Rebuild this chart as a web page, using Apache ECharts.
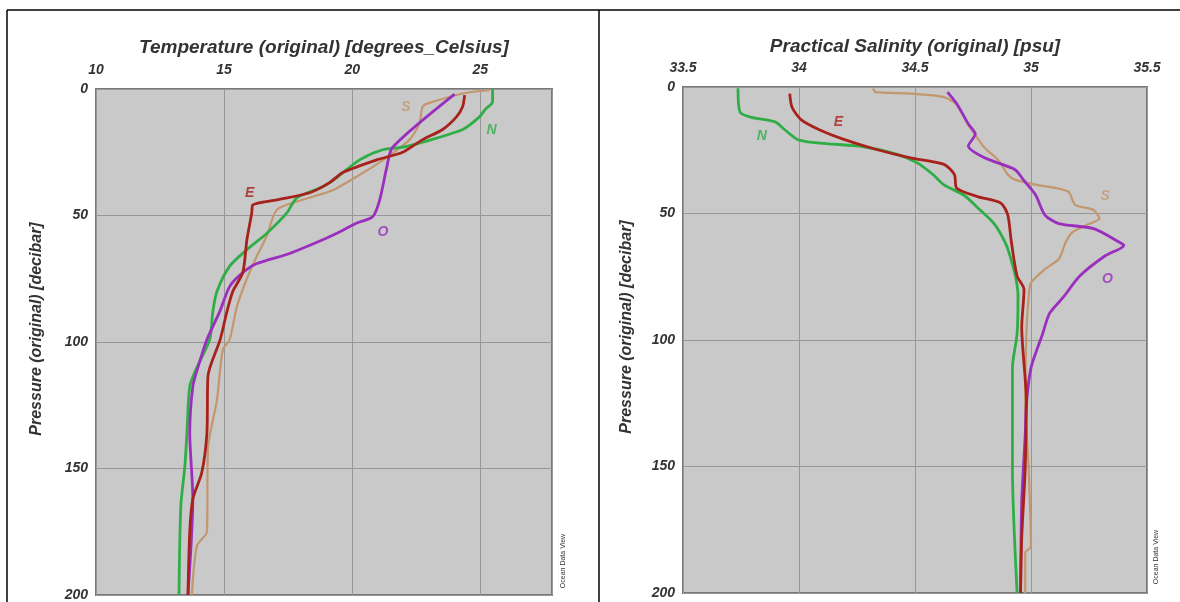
<!DOCTYPE html>
<html><head><meta charset="utf-8">
<script src="https://cdn.jsdelivr.net/npm/echarts@6/dist/echarts.min.js"></script>
<style>html,body{margin:0;padding:0;background:#fff}#c{width:1180px;height:602px}</style>
</head><body><div id="c"></div><script>
// ---- Temperature profiles (degrees C) vs pressure (decibar)
const tempN_P = [0, 5, 8, 11, 16, 21, 23, 24, 28, 35, 38.6, 43, 49, 57, 63.5, 70, 80, 88, 99, 110, 117.5, 136, 149, 165, 200];
const tempN_V = [25.48, 25.48, 25.2, 24.97, 24.31, 22.75, 21.97, 21.19, 20.29, 19.40, 18.85, 17.84, 17.45, 16.67, 15.89, 15.22, 14.72, 14.56, 14.44, 13.94, 13.66, 13.55, 13.47, 13.31, 13.24];
const tempO_P = [2, 23, 31, 44, 50.5, 53, 57, 59.6, 65, 69, 72.6, 78, 88, 99, 110, 117.5, 136, 162, 200];
const tempO_V = [24.0, 21.58, 21.35, 21.07, 20.80, 20.18, 19.40, 18.85, 17.56, 16.28, 15.73, 15.22, 14.83, 14.33, 13.98, 13.78, 13.66, 13.78, 13.59];
const tempE_P = [2.4, 7, 11, 16, 20, 25, 28, 33, 37, 41, 43.8, 45.8, 49, 59.6, 72.6, 80, 88, 99, 113.5, 136, 151.6, 162, 175, 200];
const tempE_V = [24.39, 24.31, 24.07, 23.53, 22.75, 21.97, 20.96, 19.63, 19.12, 18.34, 17.06, 16.12, 16.08, 15.89, 15.73, 15.34, 15.11, 14.85, 14.37, 14.33, 14.13, 13.78, 13.66, 13.59];
const tempS_P = [0.5, 1.5, 5.5, 7, 13.5, 20, 29, 34.6, 40, 43.8, 47.7, 58, 66, 75, 86, 99, 103, 123, 142, 175, 180.6, 200];
const tempS_V = [25.36, 24.46, 23.02, 22.75, 22.63, 22.24, 21.07, 20.18, 19.24, 18.07, 17.06, 16.67, 16.28, 15.89, 15.50, 15.22, 14.95, 14.72, 14.37, 14.33, 13.94, 13.74];

// ---- Salinity profiles (psu) vs pressure (decibar)
const salN_P = [0.5, 10, 12, 13.8, 17, 21, 22.5, 23.4, 26.5, 30, 34.8, 38.7, 42.7, 47.7, 54.5, 64, 82.6, 97.6, 111, 151, 200];
const salN_V = [33.737, 33.746, 33.795, 33.897, 33.94, 34.0, 34.13, 34.26, 34.42, 34.51, 34.58, 34.625, 34.71, 34.77, 34.845, 34.90, 34.944, 34.94, 34.92, 34.92, 34.94];
const salE_P = [2.6, 8, 13, 17, 20.6, 24.6, 28, 30.6, 34.6, 40, 43.3, 45.9, 50.6, 61, 74.7, 80, 95, 124, 151, 178, 200];
const salE_V = [33.96, 33.97, 34.01, 34.09, 34.19, 34.33, 34.48, 34.625, 34.67, 34.68, 34.77, 34.87, 34.90, 34.915, 34.94, 34.97, 34.96, 34.98, 34.975, 34.96, 34.955];
const salO_P = [2, 6.6, 14.6, 18.6, 23.3, 28, 32.6, 37, 42.7, 50.6, 54, 56, 61.3, 62.6, 66.7, 74.7, 83, 89.5, 97.6, 111, 125.6, 137.6, 164, 200];
const salO_V = [34.64, 34.68, 34.73, 34.76, 34.73, 34.80, 34.93, 34.97, 35.02, 35.06, 35.12, 35.27, 35.38, 35.40, 35.32, 35.21, 35.14, 35.08, 35.05, 35.0, 34.98, 34.975, 34.96, 34.955];
const salS_P = [0.5, 2, 2.6, 4, 7, 15, 19, 24, 29, 34.6, 36.6, 38.6, 41.3, 46.6, 48.6, 52, 54.5, 57.3, 61.3, 68, 72, 77.4, 83, 97.6, 124, 151, 181.7, 184, 200];
const salS_V = [34.32, 34.33, 34.48, 34.625, 34.68, 34.73, 34.76, 34.80, 34.86, 34.90, 34.93, 35.02, 35.16, 35.19, 35.27, 35.295, 35.24, 35.18, 35.15, 35.12, 35.06, 35.0, 34.99, 34.98, 34.975, 34.99, 35.0, 34.975, 34.975];

// ---- Axis ticks
const tempTicks = [10, 15, 20, 25];
const salTicks = [33.5, 34, 34.5, 35, 35.5];
const pressTicks = [0, 50, 100, 150, 200];

// ---- Curve tags: [name, value, pressure]
const tempTags = [['N', 25.44, 16.2], ['S', 22.1, 7.1], ['E', 16.0, 41], ['O', 21.2, 56.4]];
const salTags = [['N', 33.84, 19.4], ['E', 34.17, 13.8], ['S', 35.32, 43.3], ['O', 35.33, 75.9]];

const colors = { N: '#2fae48', S: '#c3976e', E: '#a8221c', O: '#9a2fbd' };
const FONT = "'Liberation Sans', Arial, sans-serif";

function pairs(v, p) { return v.map((x, i) => [x, p[i]]); }

function lineSeries(name, v, p, idx, w) {
  return {
    type: 'line', name: name, xAxisIndex: idx, yAxisIndex: idx,
    data: pairs(v, p), showSymbol: false, symbol: 'none', smooth: 0.25,
    lineStyle: { color: colors[name], width: w || 2.8 }, z: 3, silent: true
  };
}
function tagSeries(tags, idx) {
  return {
    type: 'scatter', xAxisIndex: idx, yAxisIndex: idx, symbolSize: 0, z: 5, silent: true,
    data: tags.map(t => ({ value: [t[1], t[2]], label: { color: colors[t[0]] }, tag: t[0] })),
    label: {
      show: true, position: 'inside', fontFamily: FONT, fontWeight: 'bold', fontStyle: 'italic', fontSize: 14,
      formatter: p => p.data.tag
    }
  };
}

const labelStyle = { fontFamily: FONT, fontWeight: 'bold', fontStyle: 'italic', fontSize: 14, color: '#333' };
const nameStyleX = { fontFamily: FONT, fontWeight: 'bold', fontStyle: 'italic', fontSize: 19, color: '#333' };
const nameStyleY = { fontFamily: FONT, fontWeight: 'bold', fontStyle: 'italic', fontSize: 16, color: '#333', padding: [0, 0, 0, 26] };
const split = { show: true, lineStyle: { color: '#979797', width: 1 } };

function xAxis(idx, min, max, interval, name, gap, ticks) {
  return {
    gridIndex: idx, type: 'value', position: 'top', min: min, max: max, interval: interval,
    name: name, nameLocation: 'middle', nameGap: gap, nameTextStyle: nameStyleX,
    axisLine: { show: false }, axisTick: { show: false },
    axisLabel: Object.assign({ margin: 12, showMaxLabel: ticks.indexOf(max) >= 0,
      formatter: v => (ticks.indexOf(v) >= 0 ? String(v) : '') }, labelStyle),
    splitLine: split
  };
}
function yAxis(idx, gap) {
  return {
    gridIndex: idx, type: 'value', inverse: true, min: pressTicks[0], max: pressTicks[pressTicks.length - 1], interval: 50,
    name: 'Pressure (original) [decibar]', nameLocation: 'middle', nameGap: gap, nameTextStyle: nameStyleY,
    axisLine: { show: false }, axisTick: { show: false },
    axisLabel: Object.assign({ margin: 8 }, labelStyle),
    splitLine: split
  };
}

const chart = echarts.init(document.getElementById('c'), null, { renderer: 'canvas' });
chart.setOption({
  backgroundColor: '#ffffff',
  animation: false,
  grid: [
    { left: 96, top: 89, width: 456, height: 507, show: true, backgroundColor: '#c9c9c9', borderColor: '#777', borderWidth: 2 },
    { left: 683, top: 87, width: 464, height: 506, show: true, backgroundColor: '#c9c9c9', borderColor: '#777', borderWidth: 2 }
  ],
  xAxis: [
    xAxis(0, 10, 27.8, 5, 'Temperature (original) [degrees_Celsius]', 32, tempTicks),
    xAxis(1, 33.5, 35.5, 0.5, 'Practical Salinity (original) [psu]', 30, salTicks)
  ],
  yAxis: [yAxis(0, 51), yAxis(1, 48)],
  series: [
    lineSeries('S', tempS_V, tempS_P, 0, 2.2),
    lineSeries('N', tempN_V, tempN_P, 0),
    lineSeries('O', tempO_V, tempO_P, 0),
    lineSeries('E', tempE_V, tempE_P, 0),
    lineSeries('S', salS_V, salS_P, 1, 2.2),
    lineSeries('N', salN_V, salN_P, 1),
    lineSeries('O', salO_V, salO_P, 1),
    lineSeries('E', salE_V, salE_P, 1),
    tagSeries(tempTags, 0),
    tagSeries(salTags, 1)
  ],
  graphic: [
    { type: 'line', shape: { x1: 7, y1: 10, x2: 1180, y2: 10 }, style: { stroke: '#000', lineWidth: 1.5 } },
    { type: 'line', shape: { x1: 7, y1: 10, x2: 7, y2: 602 }, style: { stroke: '#000', lineWidth: 1.5 } },
    { type: 'line', shape: { x1: 599, y1: 10, x2: 599, y2: 602 }, style: { stroke: '#000', lineWidth: 1.5 } },
    { type: 'text', x: 563, y: 561, rotation: Math.PI / 2,
      style: { text: 'Ocean Data View', fontSize: 7, fontFamily: FONT, fill: '#333', align: 'center', verticalAlign: 'middle' } },
    { type: 'text', x: 1156, y: 557, rotation: Math.PI / 2,
      style: { text: 'Ocean Data View', fontSize: 7, fontFamily: FONT, fill: '#333', align: 'center', verticalAlign: 'middle' } }
  ]
});
</script></body></html>
